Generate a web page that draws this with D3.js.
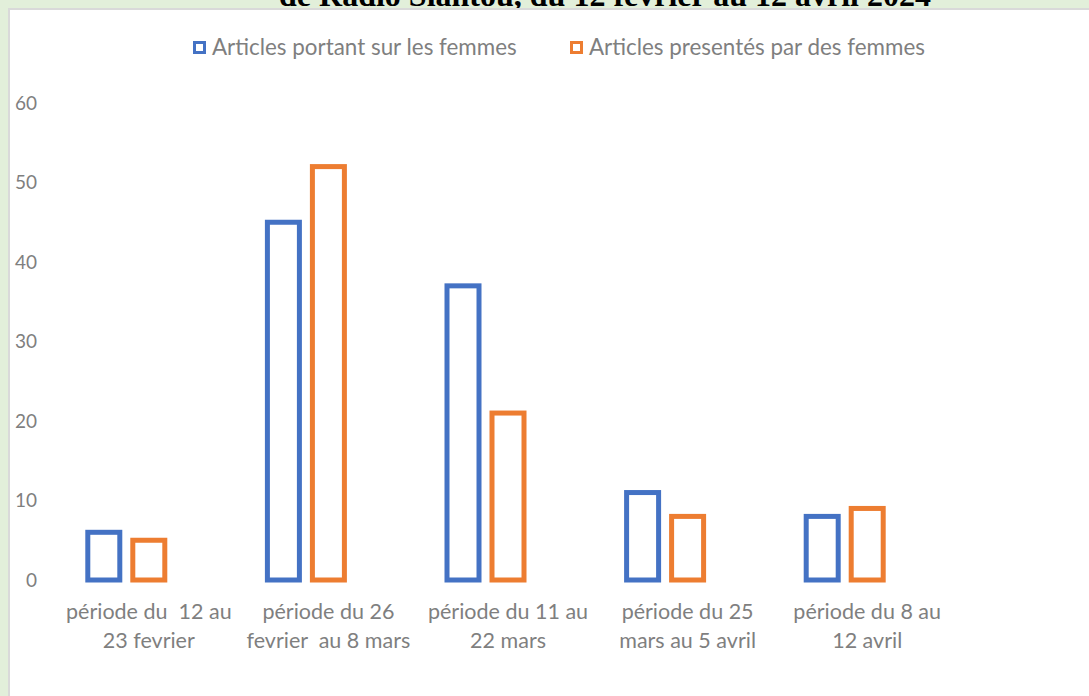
<!DOCTYPE html>
<html>
<head>
<meta charset="utf-8">
<script src="https://cdn.jsdelivr.net/npm/d3@7"></script>
<style>
  body { margin: 0; background: #e2efda; }
  svg { display: block; }
</style>
</head>
<body>
<div id="chart"></div>
<script>
// chart data
var categories = [
  "période du  12 au\n23 fevrier",
  "période du 26\nfevrier  au 8 mars",
  "période du 11 au\n22 mars",
  "période du 25\nmars au 5 avril",
  "période du 8 au\n12 avril"
];
var seriesNames = ["Articles portant sur les femmes", "Articles presentés par des femmes"];
var surLesFemmes = [6, 45, 37, 11, 8];
var parDesFemmes = [5, 52, 21, 8, 9];
var yTicks = [0, 10, 20, 30, 40, 50, 60];
var title = "de Radio Siantou, du 12 février au 12 avril 2024";

var colors = ["#4472c4", "#ed7d31"];
var width = 1089, height = 696;
var textColor = "#7f7f7f";
var font = "Lato, 'Open Sans', sans-serif";

var svg = d3.select("#chart")
  .append("svg")
  .attr("width", width)
  .attr("height", height);

// green page background with the cut off title
svg.append("rect").attr("width", width).attr("height", height).attr("fill", "#e2efda");
svg.append("text")
  .attr("x", 605)
  .attr("y", 6)
  .attr("text-anchor", "middle")
  .attr("font-family", "'Liberation Serif', 'Times New Roman', serif")
  .attr("font-weight", "bold")
  .attr("font-size", 32)
  .attr("fill", "#000")
  .text(title);

// chart area
svg.append("rect")
  .attr("x", 9).attr("y", 9)
  .attr("width", width).attr("height", height)
  .attr("fill", "#fff")
  .attr("stroke", "#d9d9d9")
  .attr("stroke-width", 2);

var x0 = d3.scaleBand()
  .domain(categories)
  .range([59, 957]);

// bars sit in the left part of each category (room for a third, empty slot)
var x1 = d3.scaleBand()
  .domain(seriesNames)
  .range([x0.bandwidth() / 2 - 67.5, x0.bandwidth() / 2 + 22.5]);

var y = d3.scaleLinear()
  .domain([0, 60])
  .range([580, 103]);

var barW = 32;

var rows = categories.map(function(c, i) {
  return { cat: c, values: [surLesFemmes[i], parDesFemmes[i]] };
});

var groups = svg.append("g").selectAll("g")
  .data(rows)
  .enter()
  .append("g")
  .attr("transform", function(d) { return "translate(" + x0(d.cat) + ",0)"; });

groups.selectAll("rect")
  .data(function(d) {
    return d.values.map(function(v, j) { return { name: seriesNames[j], value: v, k: j }; });
  })
  .enter()
  .append("rect")
  .attr("x", function(d) { return x1(d.name) + (x1.bandwidth() - barW) / 2; })
  .attr("y", function(d) { return y(d.value); })
  .attr("width", barW)
  .attr("height", function(d) { return y(0) - y(d.value); })
  .attr("fill", "#fff")
  .attr("stroke", function(d) { return colors[d.k]; })
  .attr("stroke-width", 5);

// y axis
var yAxis = svg.append("g")
  .attr("transform", "translate(37,0)")
  .call(d3.axisLeft(y).tickValues(yTicks).tickSize(0).tickPadding(0));
yAxis.select(".domain").remove();
yAxis.selectAll("text")
  .attr("font-family", font)
  .attr("font-size", 19)
  .attr("fill", textColor);

// x axis with two line labels
var xAxis = svg.append("g")
  .attr("transform", "translate(0,580)")
  .call(d3.axisBottom(x0).tickSize(0));
xAxis.select(".domain").remove();
xAxis.selectAll("text").each(function(d) {
  var t = d3.select(this).text("")
    .attr("y", 0).attr("dy", null)
    .attr("font-family", font)
    .attr("font-size", 21.5)
    .attr("fill", textColor);
  d.split("\n").forEach(function(line, i) {
    t.append("tspan")
      .attr("x", 0)
      .attr("y", 39 + i * 29)
      .attr("xml:space", "preserve")
      .style("white-space", "pre")
      .text(line);
  });
});

// legend
var legendX = [193, 570];
var legend = svg.append("g").selectAll("g")
  .data(seriesNames)
  .enter()
  .append("g")
  .attr("transform", function(d, i) { return "translate(" + legendX[i] + ",41)"; });

legend.append("rect")
  .attr("x", 1.5).attr("y", 1.5)
  .attr("width", 10).attr("height", 10)
  .attr("fill", "#fff")
  .attr("stroke", function(d, i) { return colors[i]; })
  .attr("stroke-width", 3);

legend.append("text")
  .attr("x", 19)
  .attr("y", 14)
  .attr("font-family", font)
  .attr("font-size", 22.4)
  .attr("fill", textColor)
  .text(function(d) { return d; });
</script>
</body>
</html>
